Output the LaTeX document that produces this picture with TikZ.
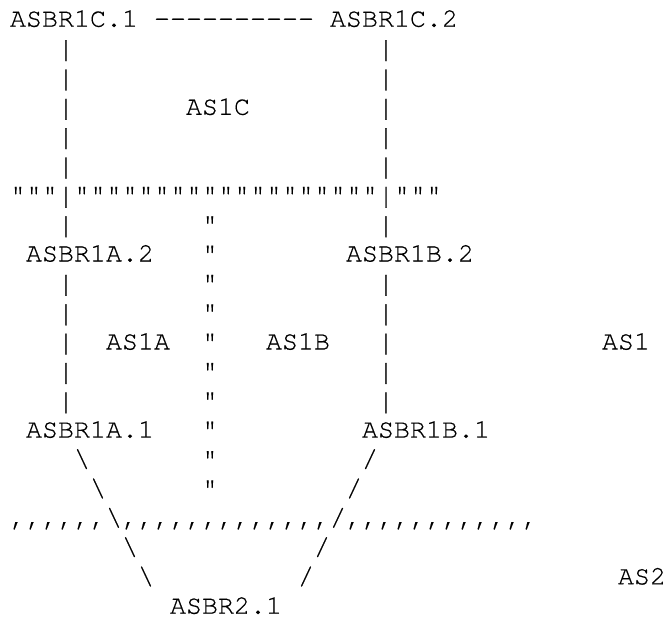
\documentclass[tikz,border=0pt]{standalone}
\usepackage{fontspec}
\usepackage{graphicx}
\newfontfamily\cour{texgyrecursor-regular.otf}[FakeBold=0.4]
\newcommand\asciifont{\cour\fontsize{26.67pt}{26.67pt}\selectfont}
\newcommand\vb{\raisebox{-1.5pt}{\scalebox{1}[1.08]{|}}}
\tikzset{
  txt/.style={anchor=base west, inner sep=0pt, outer sep=0pt, text=black,
    font=\asciifont}
}
\begin{document}
\begin{tikzpicture}
\useasboundingbox (0pt,0pt) rectangle (666pt,-618pt);
\begin{scope}[shift={(10pt,-26.7pt)}, x=16pt, y=-29.35pt]
% row 0
\node[txt] (c1) at (0,0) {ASBR1C.1};
\node[txt] (dashC) at (9,0) {----------};
\node[txt] (c2) at (20,0) {ASBR1C.2};
% rows 1-5
\foreach \r in {1,...,5} {
  \node[txt] (la\r) at (3,\r) {\vb};
  \node[txt] (ra\r) at (23,\r) {\vb};
}
\node[txt] (as1c) at (11,3) {AS1C};
% row 6
\node[txt] (bndC) at (0,6) {"""\vb"""""""""""""""""""\vb"""};
% rows with bars and quote
\foreach \r in {7,9,10,12,13} {
  \node[txt] (lb\r) at (3,\r) {\vb};
  \node[txt] (q\r) at (12,\r) {"};
  \node[txt] (rb\r) at (23,\r) {\vb};
}
% row 8
\node[txt] (a2) at (1,8) {ASBR1A.2};
\node[txt] (q8) at (12,8) {"};
\node[txt] (b2) at (21,8) {ASBR1B.2};
% row 11
\node[txt] (lb11) at (3,11) {\vb};
\node[txt] (as1a) at (6,11) {AS1A};
\node[txt] (q11) at (12,11) {"};
\node[txt] (as1b) at (16,11) {AS1B};
\node[txt] (rb11) at (23,11) {\vb};
\node[txt] (as1) at (37,11) {AS1};
% row 14
\node[txt] (a1) at (1,14) {ASBR1A.1};
\node[txt] (q14) at (12,14) {"};
\node[txt] (b1) at (22,14) {ASBR1B.1};
% row 15
\node[txt] (bs15) at (4,15) {\textbackslash};
\node[txt] (q15) at (12,15) {"};
\node[txt] (sl15) at (22,15) {/};
% row 16
\node[txt] (bs16) at (5,16) {\textbackslash};
\node[txt] (q16) at (12,16) {"};
\node[txt] (sl16) at (21,16) {/};
% row 17
\node[txt] (bnd2) at (0,17) {,,,,,,\textbackslash,,,,,,,,,,,,,/,,,,,,,,,,,,};
% row 18
\node[txt] (bs18) at (7,18) {\textbackslash};
\node[txt] (sl18) at (19,18) {/};
% row 19
\node[txt] (bs19) at (8,19) {\textbackslash};
\node[txt] (sl19) at (18,19) {/};
\node[txt] (as2) at (38,19) {AS2};
% row 20
\node[txt] (r2) at (10,20) {ASBR2.1};
\end{scope}
\end{tikzpicture}
\end{document}
